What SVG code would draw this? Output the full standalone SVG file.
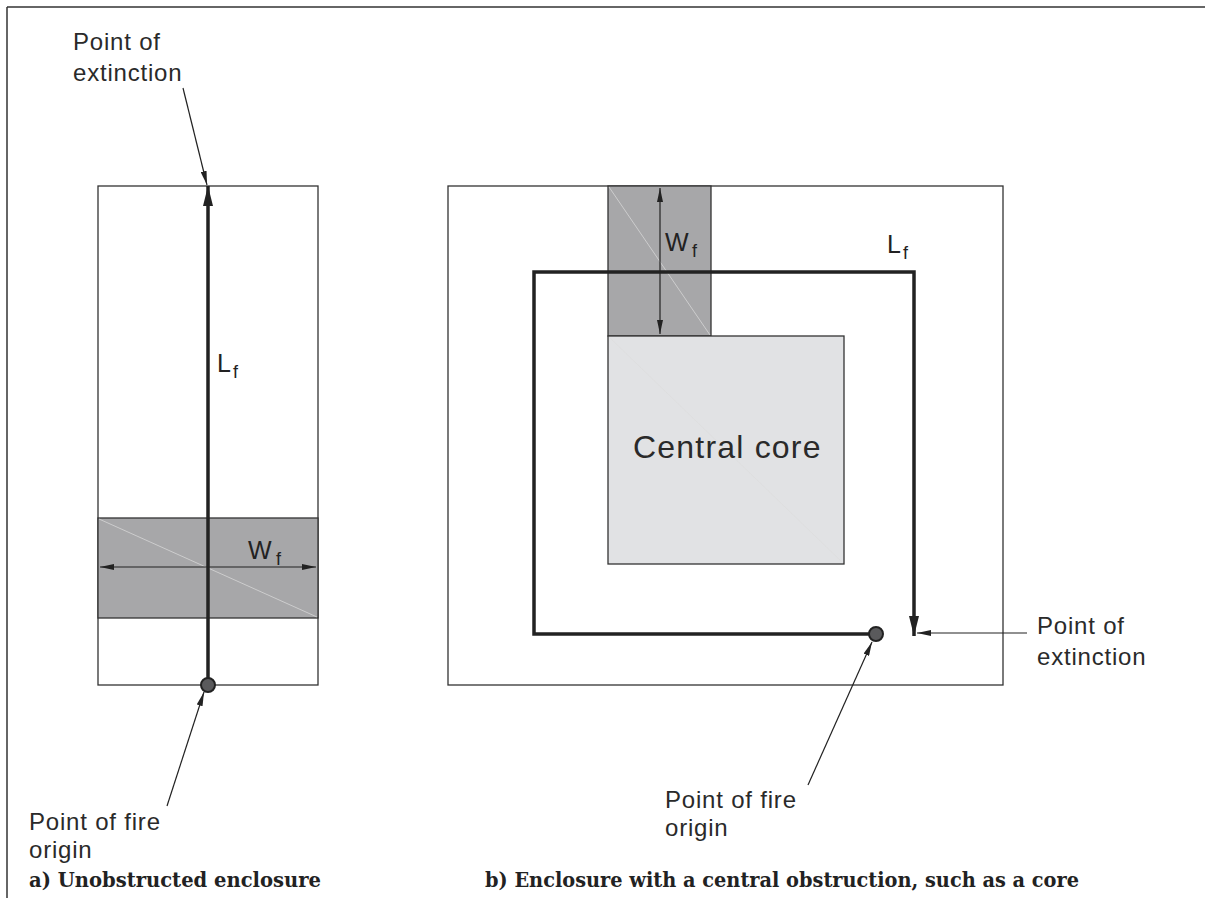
<svg xmlns="http://www.w3.org/2000/svg" width="1205" height="898" viewBox="0 0 1205 898">
<defs>
<style>
.frame{fill:none;stroke:#333;stroke-width:1.5}
.box{fill:#fff;stroke:#333;stroke-width:1.3}
.band{fill:#a7a7a9;stroke:#333;stroke-width:1.3}
.core{fill:#e1e2e4;stroke:#333;stroke-width:1.3}
.faint{stroke:#ddd;stroke-width:0.7;fill:none}
.thick{fill:none;stroke:#222;stroke-width:3.5;stroke-linejoin:miter}
.thin{fill:none;stroke:#222;stroke-width:1.2}
.dot{fill:#5a5a5c;stroke:#222;stroke-width:2}
.lbl{font-family:"Liberation Sans",Arial,sans-serif;font-size:24px;letter-spacing:0.8px;fill:#2a2a2a}
.sym{font-family:"Liberation Sans",Arial,sans-serif;font-size:25px;fill:#222}
.sub{font-family:"Liberation Sans",Arial,sans-serif;font-size:18px;fill:#222}
.cap{font-family:"DejaVu Serif","Liberation Serif",serif;font-size:21px;font-weight:bold;fill:#222}
</style>
<marker id="bigHead" viewBox="0 0 20 10" refX="20" refY="5" markerWidth="20" markerHeight="10" markerUnits="userSpaceOnUse" orient="auto">
<path d="M0,0 L20,5 L0,10 z" fill="#222"/>
</marker>
<marker id="smallHead" viewBox="0 0 14 6" refX="14" refY="3" markerWidth="14" markerHeight="6" markerUnits="userSpaceOnUse" orient="auto">
<path d="M0,0 L14,3 L0,6 z" fill="#222"/>
</marker>
<marker id="smallTail" viewBox="0 0 14 6" refX="0" refY="3" markerWidth="14" markerHeight="6" markerUnits="userSpaceOnUse" orient="auto">
<path d="M14,0 L0,3 L14,6 z" fill="#222"/>
</marker>
</defs>

<g id="frame">
<line class="frame" x1="7" y1="7" x2="1205" y2="7"/>
<line class="frame" x1="7" y1="7" x2="7" y2="898"/>
</g>

<g id="enclosure-a">
<rect class="box" x="98" y="186" width="220" height="499"/>
<rect class="band" x="98" y="518" width="220" height="100"/>
<line class="faint" x1="99" y1="519" x2="317" y2="617"/>
</g>

<g id="enclosure-b">
<rect class="box" x="448" y="186" width="555" height="499"/>
<rect class="band" x="608" y="186" width="103" height="150"/>
<line class="faint" x1="609" y1="187" x2="710" y2="335"/>
<rect class="core" x="608" y="336" width="236" height="228"/>
<line class="faint" x1="609" y1="337" x2="843" y2="563" stroke="#eee"/>
<text class="lbl" x="633" y="458" style="font-size:32px;letter-spacing:1.2px">Central core</text>
</g>

<g id="connectors">
<line class="thick" x1="208" y1="685" x2="208" y2="186" marker-end="url(#bigHead)"/>
<line class="thin" x1="100" y1="567" x2="316" y2="567" marker-start="url(#smallTail)" marker-end="url(#smallHead)"/>
<line class="thin" x1="183" y1="88" x2="207" y2="185" marker-end="url(#smallHead)"/>
<line class="thin" x1="167" y1="806" x2="204" y2="692" marker-end="url(#smallHead)"/>
<path class="thick" d="M876,634 H534 V272 H914 V636" marker-end="url(#bigHead)"/>
<line class="thin" x1="660" y1="188" x2="660" y2="334" marker-start="url(#smallTail)" marker-end="url(#smallHead)"/>
<line class="thin" x1="1027" y1="633" x2="917" y2="633" marker-end="url(#smallHead)"/>
<line class="thin" x1="808" y1="785" x2="872" y2="642" marker-end="url(#smallHead)"/>
</g>

<g id="origin-a"><circle class="dot" cx="208" cy="685" r="7"/></g>
<g id="origin-b"><circle class="dot" cx="876" cy="634" r="7"/></g>

<g id="labels-a">
<text class="lbl" x="73" y="50">Point of</text>
<text class="lbl" x="73" y="81">extinction</text>
<text class="sym" x="217" y="372">L</text><text class="sub" x="233" y="378">f</text>
<text class="sym" x="248" y="559">W</text><text class="sub" x="276" y="565">f</text>
<text class="lbl" x="29" y="830">Point of fire</text>
<text class="lbl" x="29" y="858">origin</text>
<text class="cap" x="29" y="887" textLength="292" lengthAdjust="spacingAndGlyphs">a) Unobstructed enclosure</text>
</g>

<g id="labels-b">
<text class="sym" x="665" y="251">W</text><text class="sub" x="692" y="257">f</text>
<text class="sym" x="887" y="253">L</text><text class="sub" x="903" y="259">f</text>
<text class="lbl" x="1037" y="634">Point of</text>
<text class="lbl" x="1037" y="665">extinction</text>
<text class="lbl" x="665" y="808">Point of fire</text>
<text class="lbl" x="665" y="836">origin</text>
<text class="cap" x="485" y="887" textLength="594" lengthAdjust="spacingAndGlyphs">b) Enclosure with a central obstruction, such as a core</text>
</g>
</svg>
